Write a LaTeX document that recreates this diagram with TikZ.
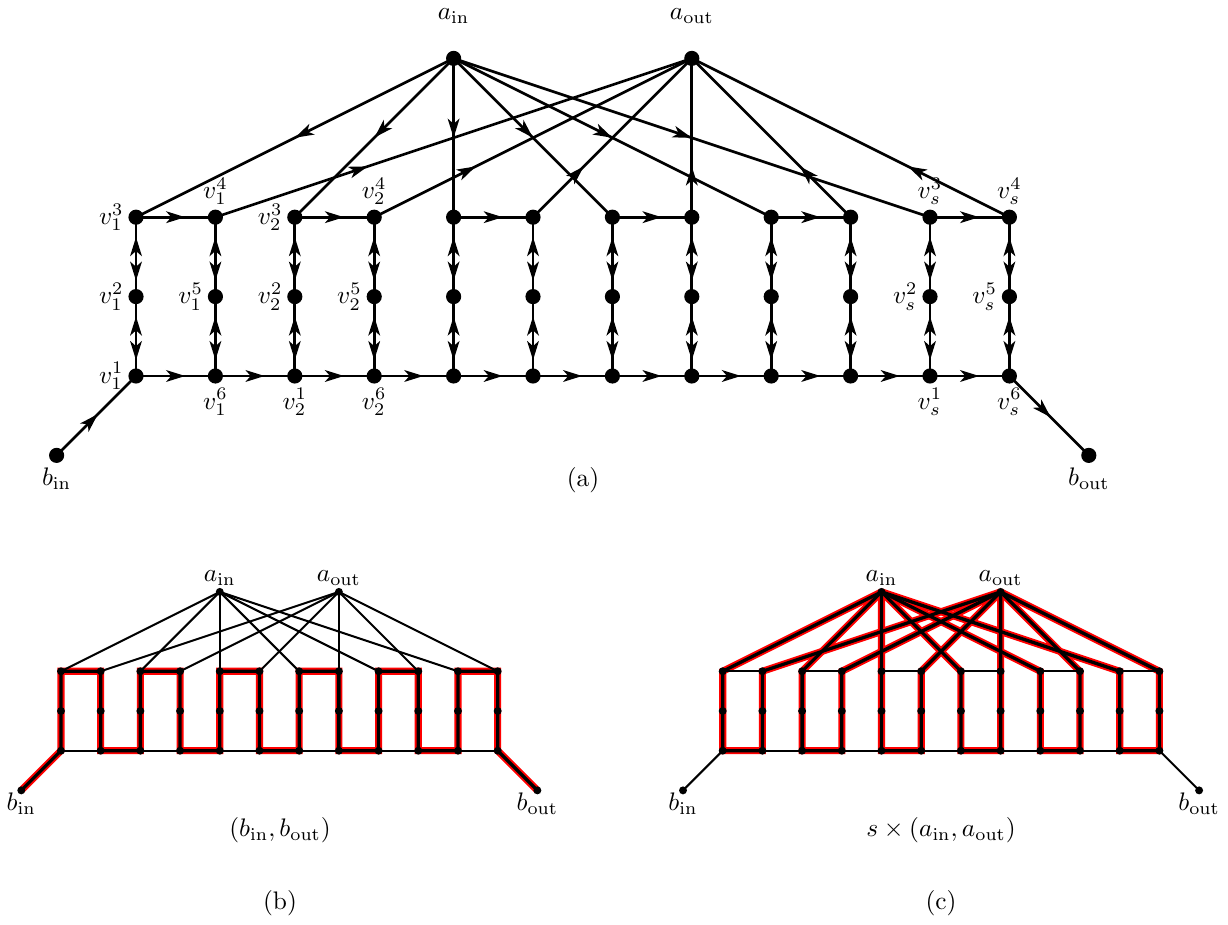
\documentclass[tikz,border=0pt]{standalone}
\usetikzlibrary{arrows.meta,decorations.markings,backgrounds}

\tikzset{
  >={Stealth[length=7.5pt,width=4.6pt,inset=2pt]},
  nodo/.style={circle, fill, inner sep=0pt, minimum size=2.1mm},
  nodino/.style={circle, fill, inner sep=0pt, minimum size=1.1mm},
  every label/.style={inner sep=1.5pt},
  arco/.style={line width=1.05pt},
  freccia/.style={arco, postaction={decorate}, decoration={markings, mark=at position #1 with {\arrow{>}}}},
  doppia/.style={arco, postaction={decorate}, decoration={markings,
      mark=at position 0.25 with {\arrowreversed{>}},
      mark=at position 0.8 with {\arrow{>}}}},
  sottile/.style={line width=0.8pt},
  evid/.style={red, line width=2.8pt},
  evidnero/.style={line width=1.3pt},
}

\begin{document}
\begin{tikzpicture}[x=1.1cm, y=1.1cm]
    %cornice
    \useasboundingbox (-1.713,-6.902) rectangle (13.753,4.7355);

    %%% grafo (a)
    %nodi a e b
    \node[nodo, label={[label distance=9pt]above:$a_{\mathrm{in}}$}] (ain) at (4,4) {};
    \node[nodo, label={[label distance=9pt]above:$a_{\mathrm{out}}$}] (aout) at (7,4) {};
    \node[nodo, label=below:$b_{\mathrm{in}}$] (bin) at (-1,-1) {};
    \node[nodo, label=below:$b_{\mathrm{out}}$] (bout) at (12,-1) {};
    %nodi con etichetta
    \node[nodo, label=left:$v_1^3$] (t1) at (0,2) {};
    \node[nodo, label=above:$v_1^4$] (t2) at (1,2) {};
    \node[nodo, label=left:$v_2^3$] (t3) at (2,2) {};
    \node[nodo, label=above:$v_2^4$] (t4) at (3,2) {};
    \node[nodo, label=above:$v_s^3$] (t11) at (10,2) {};
    \node[nodo, label=above:$v_s^4$] (t12) at (11,2) {};
    \node[nodo, label=left:$v_1^2$] (m1) at (0,1) {};
    \node[nodo, label=left:$v_1^5$] (m2) at (1,1) {};
    \node[nodo, label=left:$v_2^2$] (m3) at (2,1) {};
    \node[nodo, label=left:$v_2^5$] (m4) at (3,1) {};
    \node[nodo, label=left:$v_s^2$] (m11) at (10,1) {};
    \node[nodo, label=left:$v_s^5$] (m12) at (11,1) {};
    \node[nodo, label=left:$v_1^1$] (u1) at (0,0) {};
    \node[nodo, label=below:$v_1^6$] (u2) at (1,0) {};
    \node[nodo, label=below:$v_2^1$] (u3) at (2,0) {};
    \node[nodo, label=below:$v_2^6$] (u4) at (3,0) {};
    \node[nodo, label=below:$v_s^1$] (u11) at (10,0) {};
    \node[nodo, label=below:$v_s^6$] (u12) at (11,0) {};
    %nodi senza etichetta
    \foreach \i in {5,...,10}{
        \node[nodo] (t\i) at (\i-1,2) {};
        \node[nodo] (m\i) at (\i-1,1) {};
        \node[nodo] (u\i) at (\i-1,0) {};
    }
    \begin{scope}[on background layer]
        %archi orizzontali
        \foreach \i [evaluate=\i as \j using int(\i+1)] in {1,3,...,11}
            \draw[freccia=0.62] (t\i.center) -- (t\j.center);
        \foreach \i [evaluate=\i as \j using int(\i+1)] in {1,...,11}
            \draw[freccia=0.62] (u\i.center) -- (u\j.center);
        %archi verticali
        \foreach \i in {1,...,12}{
            \draw[doppia] (t\i.center) -- (m\i.center);
            \draw[doppia] (m\i.center) -- (u\i.center);
        }
        %archi verso a_in e a_out
        \foreach \i [evaluate=\i as \j using int(\i+1)] in {1,3,...,11}{
            \draw[freccia=0.5] (ain.center) -- (t\i.center);
            \draw[freccia=0.32] (t\j.center) -- (aout.center);
        }
        %archi b
        \draw[freccia=0.52] (bin.center) -- (u1.center);
        \draw[freccia=0.52] (u12.center) -- (bout.center);
    \end{scope}

    %%% grafo (b)
    \begin{scope}[shift={(-0.945,-4.719)}, scale=0.5]
        \foreach \i in {1,...,12}{
            \node[nodino] (Bt\i) at (\i-1,2) {};
            \node[nodino] (Bm\i) at (\i-1,1) {};
            \node[nodino] (Bu\i) at (\i-1,0) {};
        }
        \node[nodino, label={[inner sep=0.5pt]above:$a_{\mathrm{in}}$}] (Bain) at (4,4) {};
        \node[nodino, label={[inner sep=0.5pt]above:$a_{\mathrm{out}}$}] (Baout) at (7,4) {};
        \node[nodino, label={[inner sep=0.5pt, label distance=-1.4pt]below:$b_{\mathrm{in}}$}] (Bbin) at (-1,-1) {};
        \node[nodino, label={[inner sep=0.5pt, label distance=-1.4pt]below:$b_{\mathrm{out}}$}] (Bbout) at (12,-1) {};
        \begin{scope}[on background layer]
            %cammino rosso
            \draw[evid] (Bbin.center) foreach \i [evaluate=\i as \j using int(\i+1)] in {1,3,...,11}{
                -- (Bu\i.center) -- (Bt\i.center) -- (Bt\j.center) -- (Bu\j.center)} -- (Bbout.center);
            %archi sottili
            \foreach \i [evaluate=\i as \j using int(\i+1)] in {1,3,...,11}{
                \draw[sottile] (Bain.center) -- (Bt\i.center);
                \draw[sottile] (Bt\j.center) -- (Baout.center);
                \draw[sottile] (Bu\i.center) -- (Bu\j.center);
            }
            %cammino nero
            \draw[evidnero] (Bbin.center) foreach \i [evaluate=\i as \j using int(\i+1)] in {1,3,...,11}{
                -- (Bu\i.center) -- (Bt\i.center) -- (Bt\j.center) -- (Bu\j.center)} -- (Bbout.center);
        \end{scope}
    \end{scope}

    %%% grafo (c)
    \begin{scope}[shift={(7.389,-4.719)}, scale=0.5]
        \foreach \i in {1,...,12}{
            \node[nodino] (Ct\i) at (\i-1,2) {};
            \node[nodino] (Cm\i) at (\i-1,1) {};
            \node[nodino] (Cu\i) at (\i-1,0) {};
        }
        \node[nodino, label={[inner sep=0.5pt]above:$a_{\mathrm{in}}$}] (Cain) at (4,4) {};
        \node[nodino, label={[inner sep=0.5pt]above:$a_{\mathrm{out}}$}] (Caout) at (7,4) {};
        \node[nodino, label={[inner sep=0.5pt, label distance=-1.4pt]below:$b_{\mathrm{in}}$}] (Cbin) at (-1,-1) {};
        \node[nodino, label={[inner sep=0.5pt, label distance=-1.4pt]below:$b_{\mathrm{out}}$}] (Cbout) at (12,-1) {};
        \begin{scope}[on background layer]
            %cicli rossi
            \foreach \i [evaluate=\i as \j using int(\i+1)] in {1,3,...,11}
                \draw[evid] (Cain.center) -- (Ct\i.center) -- (Cu\i.center) -- (Cu\j.center) -- (Ct\j.center) -- (Caout.center);
            %archi sottili
            \foreach \i [evaluate=\i as \j using int(\i+1)] in {1,3,...,11}
                \draw[sottile] (Ct\i.center) -- (Ct\j.center);
            \foreach \i [evaluate=\i as \j using int(\i+1)] in {2,4,...,10}
                \draw[sottile] (Cu\i.center) -- (Cu\j.center);
            \draw[sottile] (Cbin.center) -- (Cu1.center);
            \draw[sottile] (Cu12.center) -- (Cbout.center);
            %cicli neri
            \foreach \i [evaluate=\i as \j using int(\i+1)] in {1,3,...,11}
                \draw[evidnero] (Cain.center) -- (Ct\i.center) -- (Cu\i.center) -- (Cu\j.center) -- (Ct\j.center) -- (Caout.center);
        \end{scope}
    \end{scope}

    %didascalie
    \node (capa) at (5.63,-1.31) {(a)};
    \node (capb) at (1.814,-5.718) {$(b_{\mathrm{in}},b_{\mathrm{out}})$};
    \node (capc) at (10.139,-5.718) {$s\times(a_{\mathrm{in}},a_{\mathrm{out}})$};
    \node (labb) at (1.814,-6.637) {(b)};
    \node (labc) at (10.139,-6.637) {(c)};
\end{tikzpicture}
\end{document}
